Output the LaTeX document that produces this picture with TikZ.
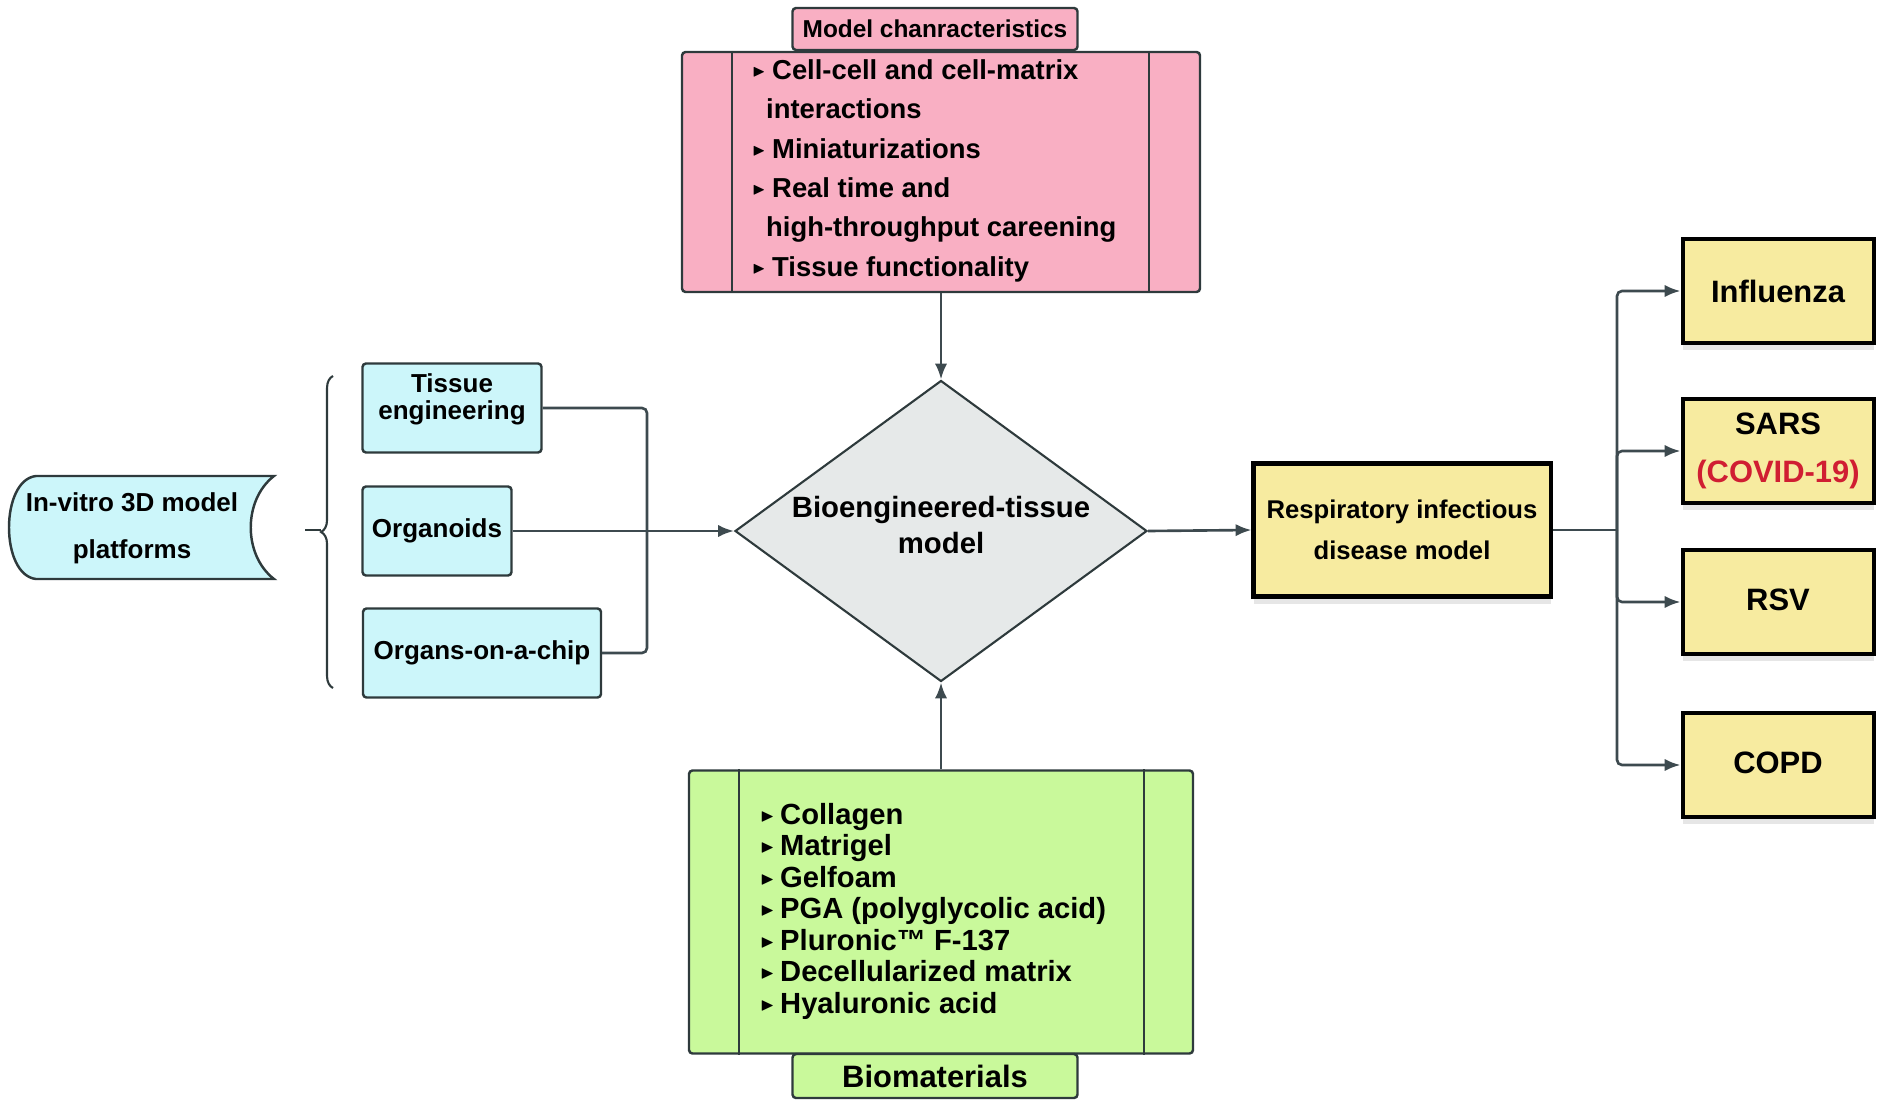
\documentclass[tikz,border=0pt]{standalone}
\usepackage{fontspec}
\usepackage{amssymb}
\usepackage{graphicx}
\setmainfont{Liberation Sans}
\usetikzlibrary{shapes.geometric,arrows.meta,decorations.pathreplacing,shadows}

\definecolor{pinkfill}{HTML}{F9AFC3}
\definecolor{cyanfill}{HTML}{CCF6FA}
\definecolor{greenfill}{HTML}{C9F99B}
\definecolor{yellowfill}{HTML}{F7EBA0}
\definecolor{greyfill}{HTML}{E6E9E9}
\definecolor{covidred}{HTML}{D01E32}
\definecolor{boxedge}{HTML}{2E3A3C}
\definecolor{linkgrey}{HTML}{3D4A4F}

\newlength{\px}
\setlength{\px}{0.02cm}
\newcommand{\itemtri}{\makebox[11.3pt][l]{\raisebox{0.2ex}{\scalebox{0.62}{$\blacktriangleright$}}}}

\begin{document}
\begin{tikzpicture}[x=0.02cm, y=-0.02cm,
  roundbox/.style={draw=boxedge, line width=1.4pt, rounded corners=2pt, inner sep=0pt, align=center},
  cyanbox/.style={roundbox, fill=cyanfill, minimum height=89\px, font=\fontsize{14.8}{15.6}\selectfont\bfseries},
  ybox/.style={draw=black, line width=2.3pt, fill=yellowfill, inner sep=0pt, align=center,
    drop shadow={shadow xshift=0pt, shadow yshift=-4pt, opacity=0.2}},
  disease/.style={ybox, minimum width=191\px, minimum height=104\px, font=\fontsize{17.6}{27}\selectfont\bfseries},
  divider/.style={draw=boxedge, line width=1.4pt},
  link/.style={draw=linkgrey, line width=1.5pt},
  arr/.style={link, -{Latex[length=9pt, width=7pt]}},
]
\useasboundingbox (0,0) rectangle (1885,1111);

\node[roundbox, fill=pinkfill, minimum width=518\px, minimum height=240\px] (chars) at (941,172) {};
\draw[divider] ([xshift=51\px]chars.north west) -- ([xshift=51\px]chars.south west);
\draw[divider] ([xshift=-52\px]chars.north east) -- ([xshift=-52\px]chars.south east);
\node[roundbox, fill=pinkfill, minimum width=285\px, minimum height=42\px, font=\fontsize{13.9}{16}\selectfont\bfseries] (charstab) at (935,29) {Model chanracteristics};
\node[anchor=north west, inner sep=0pt, align=left, font=\fontsize{15.6}{22.45}\selectfont\bfseries] (charslist) at (752,59)
  {\itemtri Cell-cell and cell-matrix\\\hspace*{7.9pt}interactions\\\itemtri Miniaturizations\\\itemtri Real time and\\\hspace*{7.9pt}high-throughput careening\\\itemtri Tissue functionality};

\node[diamond, draw=boxedge, line width=1.2pt, fill=greyfill, aspect=1.37, minimum width=412\px, minimum height=301\px, inner sep=0pt, align=center, text depth=7pt, font=\fontsize{16.7}{20.4}\selectfont\bfseries] (model) at (941,531) {Bioengineered-tissue\\model};

\node[roundbox, fill=greenfill, minimum width=504\px, minimum height=283\px] (materials) at (941,912) {};
\draw[divider] ([xshift=51\px]materials.north west) -- ([xshift=51\px]materials.south west);
\draw[divider] ([xshift=-50\px]materials.north east) -- ([xshift=-50\px]materials.south east);
\node[roundbox, fill=greenfill, minimum width=285\px, minimum height=44\px, font=\fontsize{17.6}{20}\selectfont\bfseries] (materialstab) at (935,1076) {Biomaterials};
\node[anchor=north west, inner sep=0pt, align=left, font=\fontsize{16.6}{17.9}\selectfont\bfseries] (materialslist) at (760,803)
  {\itemtri Collagen\\\itemtri Matrigel\\\itemtri Gelfoam\\\itemtri PGA (polyglycolic acid)\\\itemtri Pluronic™ F-137\\\itemtri Decellularized matrix\\\itemtri Hyaluronic acid};

\draw[divider, fill=cyanfill] (36,476) -- (274,476) .. controls (243,500) and (243,555) .. (274,579) -- (36,579) .. controls (0,575) and (0,480) .. (36,476) -- cycle;
\node[align=center, font=\fontsize{14.8}{27}\selectfont\bfseries] (platforms) at (132,528) {In-vitro 3D model\\platforms};
\draw[divider, line width=1.2pt, decorate, decoration={brace, amplitude=6.8pt}] (333,688) -- (333,376);
\coordinate (bracetip) at (321,530);
\draw[divider, line width=1.2pt] (bracetip) -- ++(-16,0);

\node[cyanbox, minimum width=179\px, text depth=13pt] (tissueeng) at (452,408) {Tissue\\engineering};
\node[cyanbox, minimum width=149\px] (organoids) at (437,531) {Organoids};
\node[cyanbox, minimum width=238\px] (chip) at (482,653) {Organs-on-a-chip};

\node[ybox, minimum width=297\px, minimum height=133\px, font=\fontsize{14.6}{23}\selectfont\bfseries] (resp) at (1402,530) {Respiratory infectious\\disease model};
\node[disease] (influenza) at (1778,291) {Influenza};
\node[disease] (sars) at (1778,451) {SARS\\\textcolor{covidred}{(COVID-19)}};
\node[disease, text depth=3pt] (rsv) at (1778,602) {RSV};
\node[disease, text depth=3pt] (copd) at (1778,765) {COPD};

\coordinate (join) at (647,530);
\draw[link, rounded corners=5\px] (tissueeng.east) -| (join) |- (chip.east);
\draw[arr] (organoids.east) -- (model.west);
\draw[arr] (chars.south) -- (model.north);
\draw[arr] (materials.north) -- (model.south);
\draw[arr] (model.east) -- (resp.west);

\coordinate (bus) at (1617,530);
\draw[link] (resp.east) -- (bus);
\foreach \d in {influenza,sars,rsv,copd}
  \draw[arr, rounded corners=5\px] (bus) |- (\d.west);
\end{tikzpicture}
\end{document}
